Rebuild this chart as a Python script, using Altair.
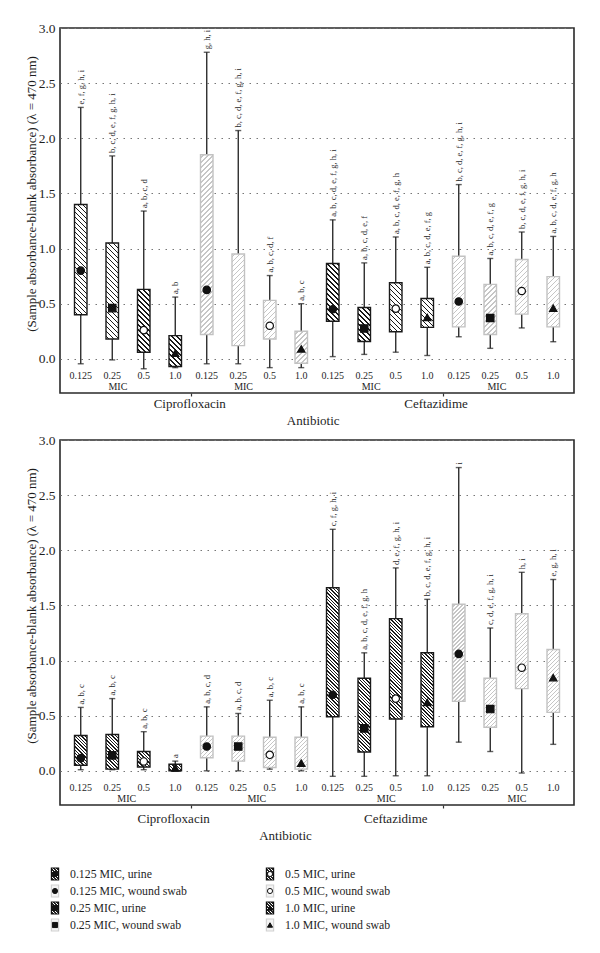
import altair as alt

FONT = "Liberation Serif"
INK = "#1e1e1e"

# ---------------- data ----------------
mic_levels = ["0.125", "0.25", "0.5", "1.0"]
antibiotics = ["Ciprofloxacin", "Ceftazidime"]
sources = ["urine", "wound swab"]

# top panel (order: Cipro urine x4, Cipro wound x4, Ceft urine x4, Ceft wound x4)
p1_q1 = [0.40, 0.18, 0.06, -0.07, 0.22, 0.12, 0.18, -0.04, 0.34, 0.157, 0.245, 0.285, 0.29, 0.22, 0.405, 0.29]
p1_q3 = [1.40, 1.05, 0.63, 0.21, 1.85, 0.95, 0.53, 0.25, 0.865, 0.465, 0.69, 0.547, 0.93, 0.675, 0.90, 0.745]
p1_mid = [0.80, 0.46, 0.26, 0.05, 0.625, None, 0.30, 0.09, 0.45, 0.275, 0.455, 0.375, 0.52, 0.37, 0.615, 0.46]
p1_lo = [-0.045, -0.01, -0.09, -0.08, -0.045, -0.045, -0.08, -0.08, 0.02, 0.04, 0.06, 0.03, 0.20, 0.095, 0.28, 0.155]
p1_hi = [2.28, 1.84, 1.34, 0.56, 2.78, 2.07, 0.755, 0.50, 1.26, 0.87, 1.105, 0.83, 1.58, 0.91, 1.15, 1.11]
p1_letters = ["e, f, g, h, i", "b, c, d, e, f, g, h, i", "a, b, c, d", "a, b",
              "g, h, i", "b, c, d, e, f, g, h, i", "a, b, c, d, f", "a, b, c",
              "a, b, c, d, e, f, g, h, i", "a, b, c, d, e, f", "a, b, c, d, e, f, g, h", "a, b, c, d, e, f, g",
              "b, c, d, e, f, g, h, i", "a, b, c, d, e, f, g", "b, c, d, e, f, g, h, i", "a, b, c, d, e, f, g, h"]

# bottom panel
p2_q1 = [0.05, 0.015, 0.035, 0.0, 0.118, 0.088, 0.03, 0.015, 0.49, 0.17, 0.47, 0.40, 0.63, 0.395, 0.745, 0.53]
p2_q3 = [0.32, 0.33, 0.175, 0.06, 0.315, 0.315, 0.305, 0.305, 1.66, 0.84, 1.38, 1.07, 1.51, 0.84, 1.425, 1.10]
p2_mid = [0.115, 0.14, 0.085, 0.025, 0.22, 0.22, 0.145, 0.07, 0.69, 0.385, 0.655, 0.62, 1.06, 0.56, 0.935, 0.845]
p2_lo = [0.01, 0.01, 0.01, 0.0, 0.0, 0.0, 0.015, 0.0, -0.05, -0.05, -0.045, -0.045, 0.26, 0.175, -0.02, 0.24]
p2_hi = [0.575, 0.655, 0.355, 0.088, 0.58, 0.52, 0.64, 0.58, 2.19, 1.07, 1.84, 1.555, 2.75, 1.295, 1.80, 1.735]
p2_letters = ["a, b, c", "a, b, c", "a, b, c", "a",
              "a, b, c, d", "a, b, c, d", "a, b, c", "a, b, c",
              "c, f, g, h, i", "a, b, c, d, e, f, g, h", "d, e, f, g, h, i", "b, c, d, e, f, g, h, i",
              "i", "c, d, e, f, g, h, i", "h, i", "e, g, h, i"]

legend_labels = ["0.125 MIC, urine", "0.125 MIC, wound swab", "0.25 MIC, urine", "0.25 MIC, wound swab",
                 "0.5 MIC, urine", "0.5 MIC, wound swab", "1.0 MIC, urine", "1.0 MIC, wound swab"]

# ---------------- layout / style ----------------
W, H = 514, 365
YMIN, YMAX = -0.31, 3.0
PXU = H / (YMAX - YMIN)
BOXW = 12.5
marker_shape = {"0.125": "circle", "0.25": "square", "0.5": "circle", "1.0": "triangle-up"}
marker_fill = {"0.125": "#111111", "0.25": "#111111", "0.5": "#ffffff", "1.0": "#111111"}


def hatch(w, h, spacing, thick, color, back):
    """Diagonal stripes as a linear gradient in the box's bounding-box units."""
    h = max(h, 1.0)
    L = w + h
    k = (w + h) / (w * w + h * h)
    if back:  # "\" stripes
        x1, y1, x2, y2 = 0.0, 1.0, k * w, 1.0 - k * h
    else:     # "/" stripes
        x1, y1, x2, y2 = 0.0, 0.0, k * w, k * h
    stops = [{"offset": 0.0, "color": "#ffffff"}]
    p = spacing * 0.5
    while p < L:
        a = p / L
        b = min(p + thick, L) / L
        stops += [{"offset": a, "color": "#ffffff"}, {"offset": a, "color": color},
                  {"offset": b, "color": color}, {"offset": b, "color": "#ffffff"}]
        p += spacing
    stops.append({"offset": 1.0, "color": "#ffffff"})
    return {"gradient": "linear", "x1": x1, "y1": y1, "x2": x2, "y2": y2, "stops": stops}


def records(q1, q3, mid, lo, hi, letters, u_sp, w_sp):
    recs = []
    for i in range(16):
        mic = mic_levels[i % 4]
        src = sources[(i // 4) % 2]
        urine = src == "urine"
        hpx = (q3[i] - q1[i]) * PXU
        if urine:
            g = hatch(BOXW, hpx, u_sp, 1.4, "#1a1a1a", True)
        else:
            g = hatch(BOXW, hpx, w_sp, 1.3, "#c6c6c6", False)
        recs.append({
            "pos": i + 0.5, "antibiotic": antibiotics[i // 8], "source": src, "mic": mic,
            "q1": q1[i], "q3": q3[i], "mid": mid[i], "lo": lo[i], "hi": hi[i],
            "letters": letters[i], "grad": g,
            "bstroke": "#1a1a1a" if urine else "#c2c2c2",
            "shape": marker_shape[mic], "mfill": marker_fill[mic],
        })
    return recs


def panel(recs, mic_pos, cipro_x, ceft_x, title_x, grp_y, title_y):
    data = alt.Data(values=recs)
    base = alt.Chart(data)
    xs = alt.Scale(domain=[0, 16], nice=False, zero=False)
    ys = alt.Scale(domain=[YMIN, YMAX], nice=False, zero=False)
    xaxis = alt.Axis(values=[4, 12], labels=False, ticks=True, tickSize=3, tickWidth=1.2,
                     tickColor="#333", domain=False, grid=False, title=None)
    yaxis = alt.Axis(values=[0, 0.5, 1.0, 1.5, 2.0, 2.5, 3.0], format=".1f", grid=True,
                     gridDash=[1.5, 5.5], gridColor="#777", gridWidth=1, domain=False, ticks=False,
                     labelFont=FONT, labelFontSize=13.5, labelColor=INK, labelPadding=5,
                     title="(Sample absorbance-blank absorbance) (λ = 470 nm)",
                     titleFont=FONT, titleFontSize=13, titleFontWeight="normal", titleColor=INK,
                     titlePadding=0, titleY=(YMAX - 1.5) * PXU)
    X = alt.X("pos:Q", scale=xs, axis=xaxis)

    def Y(field):
        return alt.Y(field, scale=ys, axis=yaxis)

    def YD(v):
        return alt.YDatum(v, scale=ys, axis=yaxis)

    whisk = base.mark_rule(color=INK, strokeWidth=1.3).encode(x=X, y=Y("lo:Q"), y2="hi:Q")
    cap_hi = base.mark_tick(orient="horizontal", size=6, thickness=1.4, color=INK).encode(x=X, y=Y("hi:Q"))
    cap_lo = base.mark_tick(orient="horizontal", size=6, thickness=1.4, color=INK).encode(x=X, y=Y("lo:Q"))
    box = base.mark_bar(size=BOXW, strokeWidth=1.4).encode(
        x=X, y=Y("q1:Q"), y2="q3:Q",
        fill=alt.Fill("grad:N", scale=None), stroke=alt.Stroke("bstroke:N", scale=None))
    pts = base.mark_point(filled=True, size=55, stroke="#111", strokeWidth=1.2, opacity=1).encode(
        x=X, y=Y("mid:Q"),
        shape=alt.Shape("shape:N", scale=None), fill=alt.Fill("mfill:N", scale=None))
    lett = base.mark_text(angle=270, align="left", baseline="middle", dx=3, font=FONT, fontSize=8.5,
                          color=INK).encode(x=X, y=Y("hi:Q"), text="letters:N")

    ticks = alt.Chart(alt.Data(values=[{"pos": i + 0.5, "t": mic_levels[i % 4]} for i in range(16)])).mark_text(
        font=FONT, fontSize=10, color=INK, baseline="middle").encode(x=X, y=YD(-0.155), text="t:N")
    mics = alt.Chart(alt.Data(values=[{"pos": p, "t": "MIC"} for p in mic_pos])).mark_text(
        font=FONT, fontSize=10, color=INK, baseline="middle").encode(x=X, y=YD(-0.255), text="t:N")
    groups = alt.Chart(alt.Data(values=[
        {"pos": cipro_x, "t": antibiotics[0], "yy": grp_y},
        {"pos": ceft_x, "t": antibiotics[1], "yy": grp_y},
        {"pos": title_x, "t": "Antibiotic", "yy": title_y},
    ])).mark_text(font=FONT, fontSize=13, color=INK, baseline="middle").encode(
        x=X, y=Y("yy:Q"), text="t:N")

    return alt.layer(whisk, box, cap_hi, cap_lo, pts, lett, ticks, mics, groups).properties(
        width=W, height=H, view=alt.ViewBackground(stroke="#2a2a2a", strokeWidth=1.6))


top = panel(records(p1_q1, p1_q3, p1_mid, p1_lo, p1_hi, p1_letters, 5.0, 5.0),
            [1.68, 5.67, 9.72, 13.71], 3.96, 11.78, 7.88, -0.41, -0.564)
bottom = panel(records(p2_q1, p2_q3, p2_mid, p2_lo, p2_hi, p2_letters, 3.4, 4.0),
               [1.96, 6.09, 10.2, 14.35], 3.45, 10.5, 7.0, -0.437, -0.59)

# ---------------- legend ----------------
leg = []
for i, lab in enumerate(legend_labels):
    mic = mic_levels[i // 2]
    urine = i % 2 == 0
    leg.append({
        "col": i // 4, "row": i % 4, "label": lab,
        "ffill": hatch(7.2, 12, 3.0, 1.2, "#222", True) if urine else "#f3f3f3",
        "fstroke": "#111" if urine else "#d2d2d2",
        "shape": marker_shape[mic], "mfill": marker_fill[mic],
    })
ldata = alt.Data(values=leg)
lx = alt.Scale(domain=[0, 1], range=[-5, 210])
ly = alt.Scale(domain=[0, 3], range=[22, 73])
LX = alt.X("col:Q", scale=lx, axis=None)
LY = alt.Y("row:Q", scale=ly, axis=None)
frames = alt.Chart(ldata).mark_point(filled=True, size=144, shape="M-0.6,-1L0.6,-1L0.6,1L-0.6,1Z",
                                     strokeWidth=1.2, opacity=1).encode(
    x=LX, y=LY, fill=alt.Fill("ffill:N", scale=None), stroke=alt.Stroke("fstroke:N", scale=None))
syms = alt.Chart(ldata).mark_point(filled=True, size=26, stroke="#111", strokeWidth=1.0, opacity=1).encode(
    x=LX, y=LY, shape=alt.Shape("shape:N", scale=None), fill=alt.Fill("mfill:N", scale=None))
ltext = alt.Chart(ldata).mark_text(align="left", baseline="middle", dx=15, font=FONT, fontSize=11.8,
                                   color=INK).encode(x=LX, y=LY, text="label:N")
legend = alt.layer(frames, syms, ltext).properties(width=W, height=80)

chart = alt.vconcat(top, bottom, legend, spacing=47, bounds="flush").properties(
    padding={"left": 16, "top": 12, "right": 5, "bottom": 5}
).configure_view(stroke="transparent")

chart.save("out.html", embed_options={"renderer": "svg", "actions": False})
